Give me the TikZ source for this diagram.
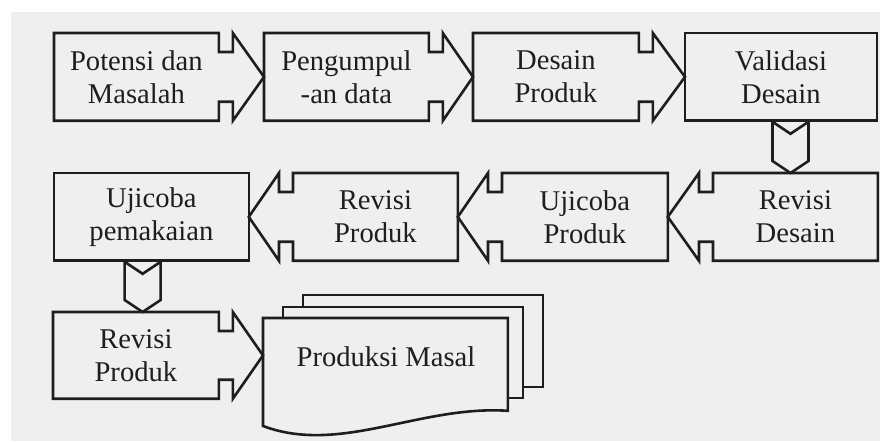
\documentclass[tikz,border=0pt]{standalone}
\usepackage{fontspec}
\setmainfont{Liberation Serif}
\usetikzlibrary{calc}
\definecolor{bg}{RGB}{239,239,239}
\definecolor{ink}{RGB}{30,30,30}
\newcommand\rarrowshape[2]{%
  \draw[outline] (#1.north west) -- (#1.north east) -- ++(0,19) -- ++(14,0) -- ++(0,-19)
    -- #2 -- ($(#1.south east)+(14,0)$) -- ++(0,-19) -- ++(-14,0) -- (#1.south east)
    -- (#1.south west) -- cycle;}
\newcommand\larrowshape[2]{%
  \draw[outline] (#1.north east) -- (#1.north west) -- ++(0,19) -- ++(-14,0) -- ++(0,-19)
    -- #2 -- ($(#1.south west)+(-14,0)$) -- ++(0,-19) -- ++(14,0) -- (#1.south west)
    -- (#1.south east) -- cycle;}
\newcommand\darrowshape[2]{%
  \draw[outline] ($(#1)+(-18,0)$) -- ($(#1)+(0,12)$) -- ($(#1)+(18,0)$)
    -- ($(#2)+(18,-12)$) -- (#2) -- ($(#2)+(-18,-12)$) -- cycle;}
\begin{document}
\begin{tikzpicture}[x=0.5pt,y=-0.5pt,
  body/.style={inner sep=0pt, minimum width=#1*0.5pt, minimum height=87*0.5pt,
    anchor=north west, align=center, text=ink,
    font=\fontsize{14.3}{16.5}\selectfont},
  outline/.style={draw=ink, line width=1.3pt, line join=miter},
  docsheet/.style={draw=ink, line width=1.3pt, fill=bg}]
\useasboundingbox (0,0) rectangle (880,443);
\fill[white] (0,0) rectangle (880,443);
\fill[bg] (11,12) rectangle (880,441);
% row 1
\node[body=164] (p1) at (54,33) {Potensi dan\\Masalah};
\node[body=164] (p2) at (264,33) {Pengumpul\\-an data};
\node[body=165] (p3) at (473,33) {Desain\\Produk};
\node[body=191] (p4) at (685,33) {Validasi\\Desain};
% row 2
\node[body=164] (q4) at (713,173) {Revisi\\Desain};
\node[body=165] (q3) at (502,173) {Ujicoba\\Produk};
\node[body=164] (q2) at (293,173) {Revisi\\Produk};
\node[body=194] (q1) at (54,173) {Ujicoba\\pemakaian};
% row 3
\node[body=165, minimum height=86*0.5pt] (r1) at (53,312) {Revisi\\Produk};
\node[inner sep=0pt, minimum width=244*0.5pt, minimum height=92*0.5pt, anchor=north west] (pmdoc) at (263,318) {};
% plain boxes
\draw[outline] (p4.north west) rectangle (p4.south east);
\draw[outline] (q1.north west) rectangle (q1.south east);
% document stack
\draw[docsheet] (303,295) rectangle (543,387);
\draw[docsheet] (283,307) rectangle (523,398);
\draw[docsheet] (pmdoc.north west) -- (pmdoc.north east) -- (pmdoc.south east)
  .. controls (420,405) and (340,455) .. (263,426) -- cycle;
\node[text=ink, font=\fontsize{14.3}{16.5}\selectfont] (pm) at (386,357) {Produksi Masal};
% arrow shapes
\rarrowshape{p1}{(p2.west)}
\rarrowshape{p2}{(p3.west)}
\rarrowshape{p3}{(p4.west)}
\larrowshape{q4}{(q3.east)}
\larrowshape{q3}{(q2.east)}
\larrowshape{q2}{(q1.east)}
\rarrowshape{r1}{(pmdoc.west |- r1.east)}
% down arrows
\coordinate (d1t) at ($(p4.south west)!0.55!(p4.south east)+(0,1)$);
\coordinate (d1b) at (d1t |- q4.north);
\darrowshape{d1t}{d1b}
\coordinate (d2t) at ($(q1.south west)!0.455!(q1.south east)+(0,1)$);
\coordinate (d2b) at (d2t |- r1.north);
\darrowshape{d2t}{d2b}
\end{tikzpicture}
\end{document}
